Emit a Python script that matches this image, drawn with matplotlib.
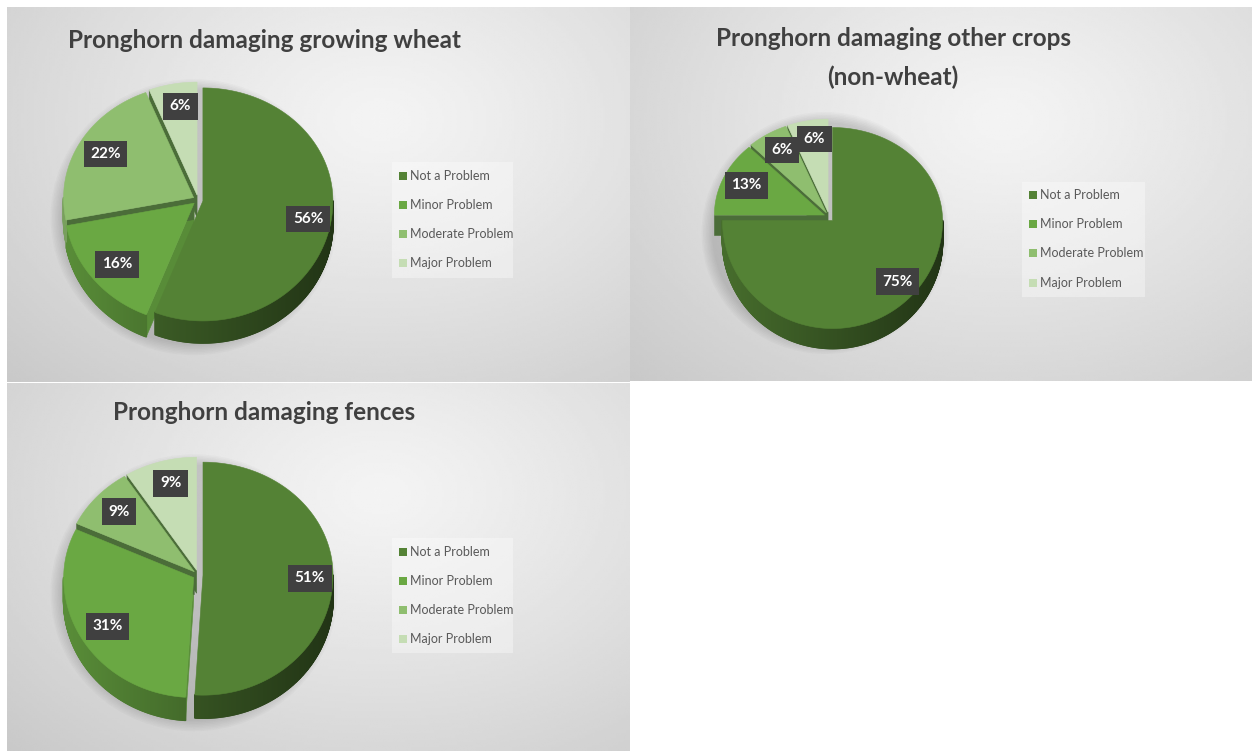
import numpy as np
import matplotlib.pyplot as plt
from matplotlib.patches import Rectangle, Ellipse
from matplotlib.collections import PolyCollection
from matplotlib.colors import to_rgb

plt.rcParams['font.family'] = ['Lato', 'DejaVu Sans']

categories = ["Not a Problem", "Minor Problem", "Moderate Problem", "Major Problem"]
wheat = [56, 16, 22, 6]
other_crops = [75, 13, 6, 6]
fences = [51, 31, 9, 9]
titles = ["Pronghorn damaging growing wheat",
          "Pronghorn damaging other crops\n(non-wheat)",
          "Pronghorn damaging fences"]
colors = ["#548235", "#6aa843", "#8fbe6f", "#c5ddb4"]
cut_color = "#4b6d39"

W, H = 1252, 751
fig = plt.figure(figsize=(W / 100, H / 100), dpi=100)
ax = fig.add_axes([0, 0, 1, 1])


def shade(c, k):
    r, g, b = to_rgb(c)
    return (r * k, g * k, b * k)


def panel_bg(x0, y0, x1, y1):
    xx, yy = np.meshgrid(np.linspace(0, 1, 240), np.linspace(0, 1, 150))
    d = np.sqrt(((xx - 0.6) / 0.85) ** 2 + ((yy - 0.3) / 1.0) ** 2)
    v = 0.955 - 0.17 * np.clip(d, 0, 1.3) ** 1.2
    ax.imshow(v, cmap='gray', vmin=0, vmax=1, extent=(x0, x1, y1, y0),
              interpolation='bilinear', aspect='auto', zorder=0)


def draw_pie(values, cx, cy, rx, ry_back, ry_front, depth, explode=5):
    total = float(sum(values))
    bounds = np.concatenate([[0], np.cumsum(values)]) / total * 360

    def pt(th, r, z, off):
        t = np.radians(th)
        s, c = np.sin(t), np.cos(t)
        ry = np.where(c > 0, ry_back, ry_front)
        return cx + off[0] + rx * r * s, cy + off[1] - ry * r * c + z

    # soft drop shadow under the pie
    for k in range(8):
        ax.add_patch(Ellipse((cx - 4, cy + depth * 0.6 + 4),
                             2 * rx + 6 + 3 * k, ry_back + ry_front + depth + 3 * k,
                             facecolor='#606060', alpha=0.035, lw=0, zorder=1))

    faces, sides, tops = [], [], []
    for i, (a, b) in enumerate(zip(bounds[:-1], bounds[1:])):
        mid = np.radians((a + b) / 2)
        off = (explode * np.sin(mid), -explode * np.cos(mid))
        col = colors[i]

        # cut faces turned toward the viewer
        for th, sign in ((a, -1), (b, 1)):
            normal = np.radians(th + sign * 90)
            if np.cos(normal) < 0:
                ox, oy = pt(th, 1, 0, off)
                px, py = pt(th, 0, 0, off)
                lit = np.sin(normal)
                fc = shade(col, 0.6 + 0.25 * lit) if lit > 0.5 else cut_color
                faces.append(([(px, py), (ox, oy), (ox, oy + depth), (px, py + depth)], fc))

        # outer rim on the front half
        lo, hi = max(a, 90), min(b, 270)
        if hi > lo:
            ths = np.linspace(lo, hi, max(2, int(2 * (hi - lo)) + 1))
            for t0, t1 in zip(ths[:-1], ths[1:]):
                x0, y0 = pt(t0, 1, 0, off)
                x1, y1 = pt(t1, 1, 0, off)
                k = 0.62 - 0.22 * np.sin(np.radians((t0 + t1) / 2))
                sides.append(([(x0, y0), (x1, y1), (x1, y1 + depth), (x0, y0 + depth)],
                              shade(col, k)))

        # top face
        ths = np.linspace(a, b, max(2, int(b - a) * 2 + 1))
        xs, ys = pt(ths, 1, 0, off)
        px, py = pt(0, 0, 0, off)
        tops.append((list(zip(xs, ys)) + [(px, py)], col))

        # data label
        lx, ly = pt(np.degrees(mid), 0.8, 0, off)
        ax.text(lx + 3, ly, f"{values[i]}%", color='white', fontsize=11,
                fontweight='bold', ha='center', va='center', zorder=6,
                bbox=dict(boxstyle='square,pad=0.42', facecolor='#404040',
                          edgecolor='none'))

    for group, z, lw in ((faces, 2, 0.4), (sides, 3, 1.2), (tops, 4, 0.4)):
        if group:
            pc = PolyCollection([g[0] for g in group],
                                facecolors=[g[1] for g in group],
                                edgecolors=[g[1] for g in group],
                                linewidths=lw, zorder=z)
            ax.add_collection(pc)


def draw_legend(x0, y0, x1, y1, rows, mx):
    ax.add_patch(Rectangle((x0, y0), x1 - x0, y1 - y0, facecolor='white',
                           alpha=0.35, lw=0, zorder=5))
    for cat, col, ry in zip(categories, colors, rows):
        ax.add_patch(Rectangle((mx - 4, ry - 4), 8, 8, facecolor=col,
                               lw=0, zorder=6))
        ax.text(mx + 7, ry, cat, fontsize=9, color='#595959',
                ha='left', va='center', zorder=6)


# panel backgrounds
panel_bg(7, 7, 630, 382)
panel_bg(630, 7, 1252, 381)
panel_bg(7, 383, 630, 751)

draw_pie(wheat, 198, 200, 130, 113, 120, 22)
draw_pie(other_crops, 829, 217, 110, 93, 108, 20)
draw_pie(fences, 198, 575, 130, 113, 120, 23)

draw_legend(392, 162, 513, 278, [176, 205, 234, 263], 403)
draw_legend(1022, 182, 1145, 297, [195, 224, 253, 283], 1033)
draw_legend(392, 538, 513, 653, [552, 581, 610, 639], 403)

title_style = dict(fontsize=17.5, fontweight='bold', color='#404040',
                   ha='center', va='center', zorder=6)
ax.text(265, 40, titles[0], **title_style)
ax.text(893, 58, titles[1], linespacing=1.75, **title_style)
ax.text(264, 413, titles[2], **title_style)

ax.set_xlim(0, W)
ax.set_ylim(H, 0)
ax.set_aspect('auto')
ax.axis('off')

fig.savefig("out.png", dpi=100, facecolor='white')
